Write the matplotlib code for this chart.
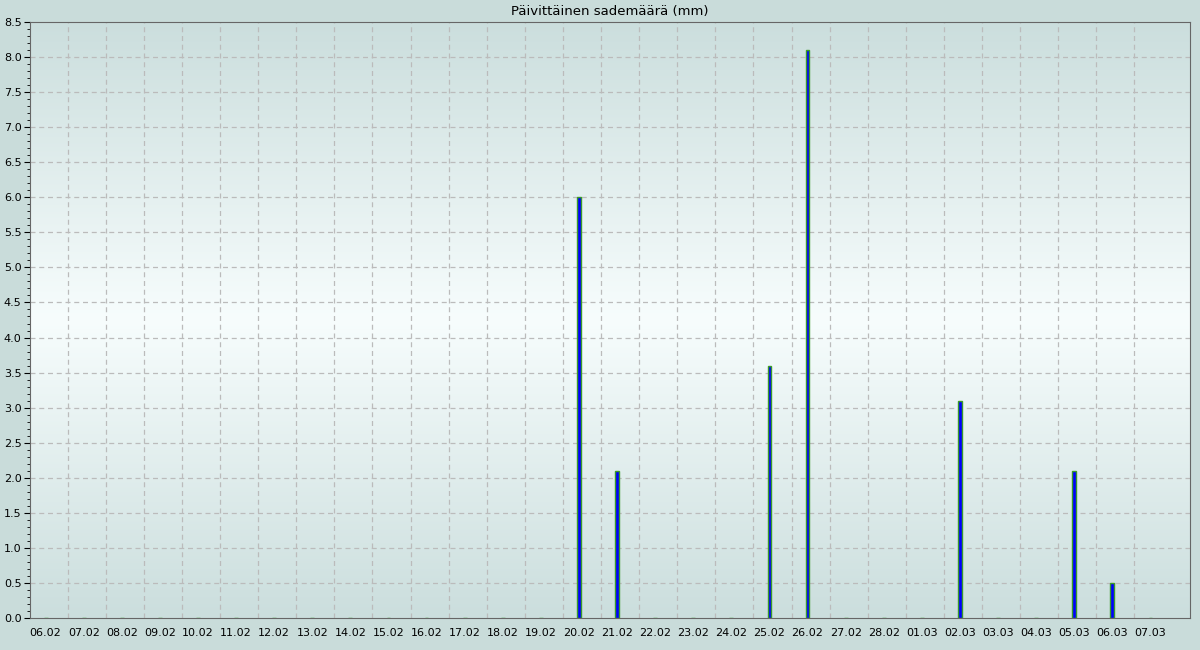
import numpy as np
import matplotlib
matplotlib.use("Agg")
import matplotlib.pyplot as plt
from matplotlib.colors import LinearSegmentedColormap
from matplotlib.ticker import MultipleLocator

# data
dates = ['06.02', '07.02', '08.02', '09.02', '10.02', '11.02', '12.02', '13.02',
         '14.02', '15.02', '16.02', '17.02', '18.02', '19.02', '20.02', '21.02',
         '22.02', '23.02', '24.02', '25.02', '26.02', '27.02', '28.02', '01.03',
         '02.03', '03.03', '04.03', '05.03', '06.03', '07.03']
rain = [0, 0, 0, 0, 0, 0, 0, 0,
        0, 0, 0, 0, 0, 0, 6.0, 2.1,
        0, 0, 0, 3.6, 8.1, 0, 0, 0,
        3.1, 0, 0, 2.1, 0.5, 0]

fig = plt.figure(figsize=(12, 6.5), dpi=100, facecolor='#c9dcda')
ax = fig.add_axes([0.025, 0.0492, 0.9667, 0.917])

x = np.arange(len(dates))
xmin, xmax = -0.41, 30.04

# background gradient
cmap = LinearSegmentedColormap.from_list('bg', ['#cbdedd', '#f7fdfd', '#cbdedd'])
grad = np.linspace(0, 1, 256).reshape(-1, 1)
ax.imshow(grad, cmap=cmap, aspect='auto', extent=(xmin, xmax, 0, 8.5),
          origin='lower', zorder=0)

ax.bar(x, rain, width=0.1, color='#0000ff', edgecolor='#3a9a2a', linewidth=1.0, zorder=3)

ax.set_xlim(xmin, xmax)
ax.set_ylim(0, 8.5)
ax.set_xticks(x)
ax.set_xticklabels(dates, fontsize=8)
ax.tick_params(axis='x', length=0, pad=7)
ax.yaxis.set_major_locator(MultipleLocator(0.5))
ax.yaxis.set_minor_locator(MultipleLocator(0.1))
ax.yaxis.set_major_formatter(plt.FormatStrFormatter('%.1f'))
ax.tick_params(axis='y', which='major', length=4, labelsize=8, pad=2)
ax.tick_params(axis='y', which='minor', length=2)

# grid
for yv in np.arange(0.5, 8.5, 0.5):
    ax.axhline(yv, color='#bbbbbb', lw=0.9, ls=(0, (4, 3)), zorder=1)
for xv in x[:-1] + 0.58:
    ax.axvline(xv, color='#bbbbbb', lw=0.9, ls=(0, (4, 3)), zorder=1)

for s in ax.spines.values():
    s.set_color('#666666')

ax.set_title('Päivittäinen sademäärä (mm)', fontsize=9.5, pad=5)

fig.savefig('out.png', dpi=100, facecolor=fig.get_facecolor())
